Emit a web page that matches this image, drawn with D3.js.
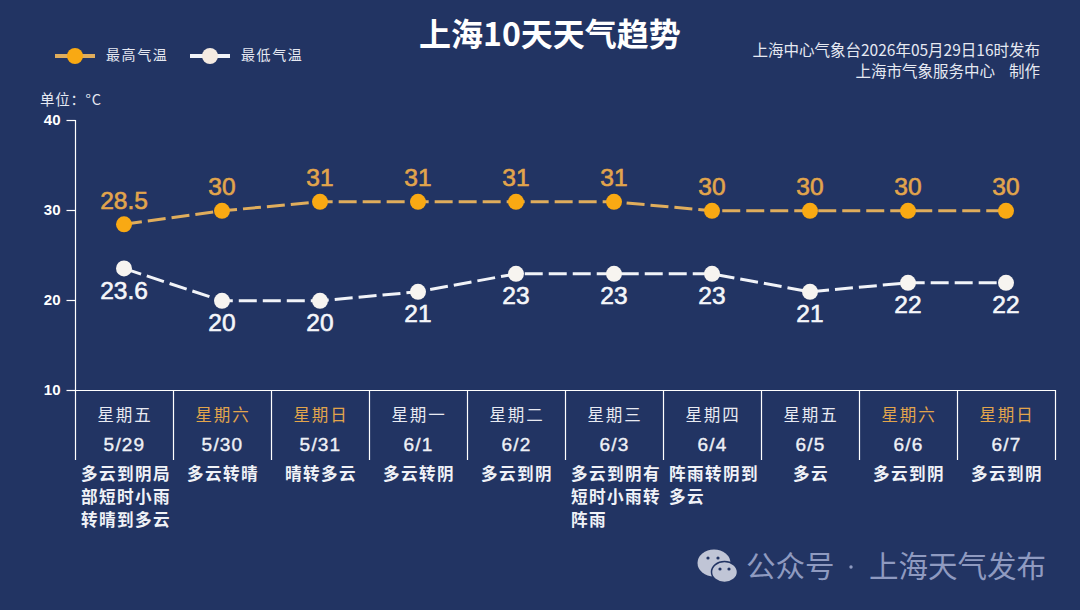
<!DOCTYPE html>
<html><head><meta charset="utf-8">
<script src="https://cdn.jsdelivr.net/npm/d3@7/dist/d3.min.js"></script>
<style>html,body{margin:0;padding:0;background:#223463;overflow:hidden}svg{display:block}
text{font-family:"Noto Sans CJK SC","Liberation Sans",sans-serif}</style></head><body>
<svg id="c" width="1080" height="610"></svg>
<script>
const dates=["5/29","5/30","5/31","6/1","6/2","6/3","6/4","6/5","6/6","6/7"];
const weekdays=["星期五","星期六","星期日","星期一","星期二","星期三","星期四","星期五","星期六","星期日"];
const highs=[28.5,30,31,31,31,31,30,30,30,30];
const lows=[23.6,20,20,21,23,23,23,21,22,22];
const weather=[["多云到阴局","部短时小雨","转晴到多云"],["多云转晴"],["晴转多云"],["多云转阴"],["多云到阴"],["多云到阴有","短时小雨转","阵雨"],["阵雨转阴到","多云"],["多云"],["多云到阴"],["多云到阴"]];
const yTicks=[10,20,30,40];
const bg="#223463",orange="#f9a913",orangeLine="#e0ad5c",orangeText="#e2a54c",white="#ffffff",lineW="#f1f3f8";
const num='"Liberation Sans",Arial,sans-serif';
const svg=d3.select("#c");
svg.append("rect").attr("width",1080).attr("height",610).attr("fill",bg);
const x=d3.scaleBand().domain(dates).range([75.5,1055.5]);
const y=d3.scaleLinear().domain([10,40]).range([390,120]);
const cx=d=>x(d)+x.bandwidth()/2;

svg.append("text").attr("x",550).attr("y",46).attr("text-anchor","middle").attr("fill",white)
 .attr("font-size",32).attr("font-weight",700).text("上海10天天气趋势");
[["上海中心气象台2026年05月29日16时发布",56,0],["上海市气象服务中心  制作",77,3.5]].forEach(([t,yy,ws])=>
 svg.append("text").attr("x",1040).attr("y",yy).attr("text-anchor","end").attr("fill","#e6e9f2").attr("font-size",15.5).attr("word-spacing",ws).attr("xml:space","preserve").text(t));

// legend
[[55,"最高气温",orangeLine,orange],[190,"最低气温",lineW,"#f5ebe2"]].forEach(([lx,t,lc,dc])=>{
 svg.append("line").attr("x1",lx).attr("x2",lx+40).attr("y1",56).attr("y2",56).attr("stroke",lc).attr("stroke-width",4);
 svg.append("circle").attr("cx",lx+20).attr("cy",56).attr("r",8).attr("fill",dc);
 svg.append("text").attr("x",lx+51).attr("y",60).attr("fill","#e6e9f2").attr("font-size",14).attr("letter-spacing",1.6).text(t);
});
svg.append("text").attr("x",40).attr("y",105).attr("fill","#e6e9f2").attr("font-size",14.5).attr("letter-spacing",.7).text("单位：°C");

// axes
const yAxis=d3.axisLeft(y).tickValues(yTicks).tickSize(9).tickPadding(6);
const gy=svg.append("g").attr("transform","translate(75.5,0)").call(yAxis);
gy.select(".domain").attr("stroke",white).attr("stroke-width",1.2).attr("d","M0,120V390");
gy.selectAll(".tick line").attr("stroke",white).attr("stroke-width",1.2);
gy.selectAll(".tick text").attr("fill",white).attr("font-size",15).attr("font-weight",700).style("font-family",num);
svg.append("line").attr("x1",75.5).attr("x2",1055.5).attr("y1",y(10)+.5).attr("y2",y(10)+.5).attr("stroke",white).attr("stroke-width",1.2);
const edges=dates.map(d=>x(d)).concat([x.range()[1]]);
svg.selectAll(".sep").data(edges).enter().append("line").attr("class","sep").attr("x1",d=>d).attr("x2",d=>d)
 .attr("y1",390).attr("y2",460).attr("stroke",white).attr("stroke-width",1.2);

// table
dates.forEach((d,i)=>{
 const weekend=weekdays[i]==="星期六"||weekdays[i]==="星期日";
 svg.append("text").attr("x",cx(d)+.5).attr("y",421).attr("text-anchor","middle").attr("fill",weekend?orangeText:"#e8eaf2")
  .attr("font-size",16.5).attr("letter-spacing",1.8).text(weekdays[i]);
 svg.append("text").attr("x",cx(d)).attr("y",451).attr("text-anchor","middle").attr("fill","#eef0f6")
  .attr("font-size",19).attr("font-weight",400).attr("stroke","#eef0f6").attr("stroke-width",.4).style("font-family",num).attr("letter-spacing",1.2).text(d);
 const lines=weather[i], multi=lines.length>1;
 lines.forEach((t,j)=>{
  svg.append("text").attr("x",multi?cx(d)-43.5:cx(d)+.5).attr("y",480+j*23)
   .attr("text-anchor",multi?"start":"middle").attr("fill","#f0f2f7").attr("font-size",16.6).attr("font-weight",700).attr("letter-spacing",1.4).text(t);
 });
});

// series
const px=d=>cx(d)-.5;
const line=d3.line().x((v,i)=>px(dates[i])).y(v=>y(v)+.8);
function series(vals,lc,dc,tc,dy){
 svg.append("path").attr("d",line(vals)).attr("fill","none").attr("stroke",lc).attr("stroke-width",3).attr("stroke-dasharray","18,6");
 svg.selectAll(null).data(vals).enter().append("circle").attr("cx",(v,i)=>px(dates[i])).attr("cy",v=>y(v)+.8).attr("r",8).attr("fill",dc);
 svg.selectAll(null).data(vals).enter().append("text").attr("x",(v,i)=>px(dates[i])).attr("y",v=>y(v)+dy)
  .attr("text-anchor","middle").attr("fill",tc).attr("stroke",tc).attr("stroke-width",.6).attr("font-size",24.5).style("font-family",num).text(v=>v);
}
series(highs,orangeLine,orange,orangeText,-15);
series(lows,lineW,"#f7f4f0","#f5f6fa",31);

// watermark
const wm=svg.append("g").attr("fill","#c0c5d6");
wm.append("ellipse").attr("cx",714).attr("cy",563).attr("rx",16.5).attr("ry",13.5);
wm.append("ellipse").attr("cx",724.5).attr("cy",572).attr("rx",13).attr("ry",10.5).attr("stroke",bg).attr("stroke-width",1.5);
[[708,558],[718,558],[720,569],[729,569]].forEach(([a,b])=>wm.append("circle").attr("cx",a).attr("cy",b).attr("r",1.6).attr("fill",bg));
svg.append("text").attr("x",746).attr("y",577).attr("fill","#8f9ac0").attr("font-size",29.5).text("公众号");
svg.append("circle").attr("cx",851).attr("cy",567).attr("r",1.7).attr("fill","#8f9ac0");
svg.append("text").attr("x",869).attr("y",577).attr("fill","#8f9ac0").attr("font-size",29.5).text("上海天气发布");
</script></body></html>
